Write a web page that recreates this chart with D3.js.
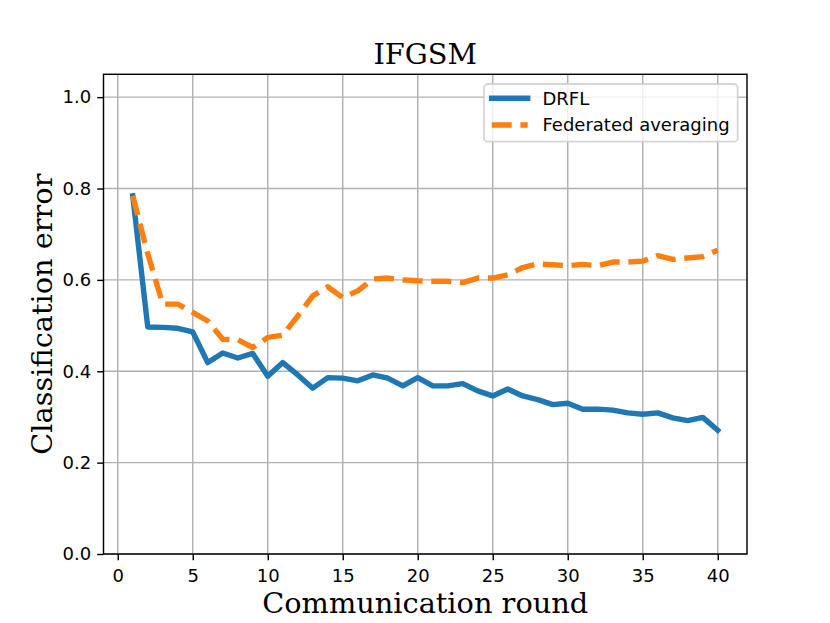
<!DOCTYPE html>
<html>
<head>
<meta charset="utf-8">
<style>
  body { margin: 0; background: #fff; }
  #graphic svg { display: block; }
  .axis path, .axis line { stroke: #000; stroke-width: 1.44px; }
  .axis text { font-family: "DejaVu Sans", sans-serif; font-size: 18px; fill: #000; }
  .grid line { stroke: #b0b0b0; stroke-width: 1.44px; }
  .label { font-family: "DejaVu Serif", serif; font-size: 28.8px; fill: #000; }
  .legend text { font-family: "DejaVu Sans", sans-serif; font-size: 18px; fill: #000; }
</style>
<script src="https://cdn.jsdelivr.net/npm/d3@7"></script>
</head>
<body>
<div id="graphic"><div class="chart"></div></div>
<script>
// Communication rounds 1..40
var rounds = [1, 2, 3, 4, 5, 6, 7, 8, 9, 10, 11, 12, 13, 14, 15, 16, 17, 18, 19, 20,
  21, 22, 23, 24, 25, 26, 27, 28, 29, 30, 31, 32, 33, 34, 35, 36, 37, 38, 39, 40];

// Classification error
var drfl = [0.784, 0.497, 0.496, 0.494, 0.486, 0.419, 0.440, 0.429, 0.439, 0.389,
  0.419, 0.392, 0.363, 0.386, 0.385, 0.379, 0.392, 0.385, 0.368, 0.386,
  0.368, 0.368, 0.373, 0.357, 0.346, 0.361, 0.346, 0.338, 0.327, 0.330,
  0.317, 0.317, 0.315, 0.309, 0.306, 0.309, 0.298, 0.292, 0.299, 0.271];

var fedavg = [0.784, 0.657, 0.547, 0.547, 0.529, 0.510, 0.470, 0.469, 0.452, 0.474,
  0.479, 0.521, 0.565, 0.585, 0.561, 0.576, 0.602, 0.604, 0.600, 0.598,
  0.597, 0.597, 0.594, 0.604, 0.604, 0.611, 0.627, 0.635, 0.633, 0.631,
  0.634, 0.631, 0.639, 0.639, 0.641, 0.653, 0.645, 0.648, 0.651, 0.665];

var xTicks = [0, 5, 10, 15, 20, 25, 30, 35, 40];
var yTicks = [0.0, 0.2, 0.4, 0.6, 0.8, 1.0];

var seriesNames = ["DRFL", "Federated averaging"];
var seriesColors = ["#1f77b4", "#ff7f0e"];

(function(d3) {
  var chart = document.querySelector("#graphic .chart");

  // Dimensions (matplotlib default axes box at this size)
  var margin = { top: 74.3, right: 83, bottom: 69, left: 103.5 };
  var totalW = 830, totalH = 623;
  var width = totalW - margin.left - margin.right;
  var height = totalH - margin.top - margin.bottom;

  var x = d3.scaleLinear().domain([-0.95, 41.95]).range([0, width]);
  var y = d3.scaleLinear().domain([0, 1.05]).range([height, 0]);

  var svg = d3.select(chart).append("svg")
      .attr("width", totalW)
      .attr("height", totalH);

  var g = svg.append("g")
      .attr("transform", "translate(" + margin.left + "," + margin.top + ")");

  // Grid
  var grid = g.append("g").attr("class", "grid");
  grid.selectAll("line.gx").data(xTicks)
    .enter().append("line")
      .attr("class", "gx")
      .attr("x1", function(d) { return x(d); })
      .attr("x2", function(d) { return x(d); })
      .attr("y1", 0).attr("y2", height);
  grid.selectAll("line.gy").data(yTicks)
    .enter().append("line")
      .attr("class", "gy")
      .attr("y1", function(d) { return y(d); })
      .attr("y2", function(d) { return y(d); })
      .attr("x1", 0).attr("x2", width);

  // Lines
  var line = d3.line()
      .x(function(d, i) { return x(rounds[i]); })
      .y(function(d) { return y(d); });

  g.append("path")
      .datum(drfl)
      .attr("d", line)
      .attr("fill", "none")
      .attr("stroke", seriesColors[0])
      .attr("stroke-width", 5.4)
      .attr("stroke-linecap", "square")
      .attr("stroke-linejoin", "round");

  g.append("path")
      .datum(fedavg)
      .attr("d", line)
      .attr("fill", "none")
      .attr("stroke", seriesColors[1])
      .attr("stroke-width", 5.4)
      .attr("stroke-dasharray", "20,8.7")
      .attr("stroke-linecap", "butt")
      .attr("stroke-linejoin", "round");

  // Axes
  var xAxis = d3.axisBottom(x).tickValues(xTicks).tickSize(6.3).tickPadding(5)
      .tickFormat(d3.format("d"));
  var yAxis = d3.axisLeft(y).tickValues(yTicks).tickSize(6.3).tickPadding(6)
      .tickFormat(d3.format(".1f"));

  var gx = g.append("g").attr("class", "axis")
      .attr("transform", "translate(0," + height + ")")
      .call(xAxis);
  gx.select(".domain").remove();
  gx.selectAll("text").attr("dy", "0.95em");

  var gy = g.append("g").attr("class", "axis").call(yAxis);
  gy.select(".domain").remove();

  // Frame
  g.append("rect")
      .attr("width", width).attr("height", height)
      .attr("fill", "none")
      .attr("stroke", "#000")
      .attr("stroke-width", 1.44);

  // Title and axis labels
  svg.append("text").attr("class", "label")
      .attr("x", margin.left + width / 2).attr("y", margin.top - 10.8)
      .attr("text-anchor", "middle")
      .text("IFGSM");

  svg.append("text").attr("class", "label")
      .attr("x", margin.left + width / 2).attr("y", 612.5)
      .attr("text-anchor", "middle")
      .text("Communication round");

  svg.append("text").attr("class", "label")
      .attr("transform", "translate(51.5," + (margin.top + height / 2) + ") rotate(-90)")
      .attr("text-anchor", "middle")
      .text("Classification error");

  // Legend
  var legend = svg.append("g").attr("class", "legend")
      .attr("transform", "translate(484,84)");

  legend.append("rect")
      .attr("width", 253.7).attr("height", 57.7)
      .attr("rx", 4).attr("ry", 4)
      .attr("fill", "#fff").attr("fill-opacity", 0.8)
      .attr("stroke", "#ccc").attr("stroke-opacity", 0.8)
      .attr("stroke-width", 1.8);

  var rows = legend.selectAll("g.row").data(seriesNames)
    .enter().append("g")
      .attr("class", "row")
      .attr("transform", function(d, i) { return "translate(0," + (14.3 + i * 26.7) + ")"; });

  rows.append("line")
      .attr("x1", 7.7).attr("x2", 43.7)
      .attr("stroke", function(d, i) { return seriesColors[i]; })
      .attr("stroke-width", 5.4)
      .attr("stroke-linecap", function(d, i) { return i ? "butt" : "square"; })
      .attr("stroke-dasharray", function(d, i) { return i ? "20,8.7" : null; });

  rows.append("text")
      .attr("x", 58.5)
      .attr("dy", "0.35em")
      .text(function(d) { return d; });
})(d3);
</script>
</body>
</html>
